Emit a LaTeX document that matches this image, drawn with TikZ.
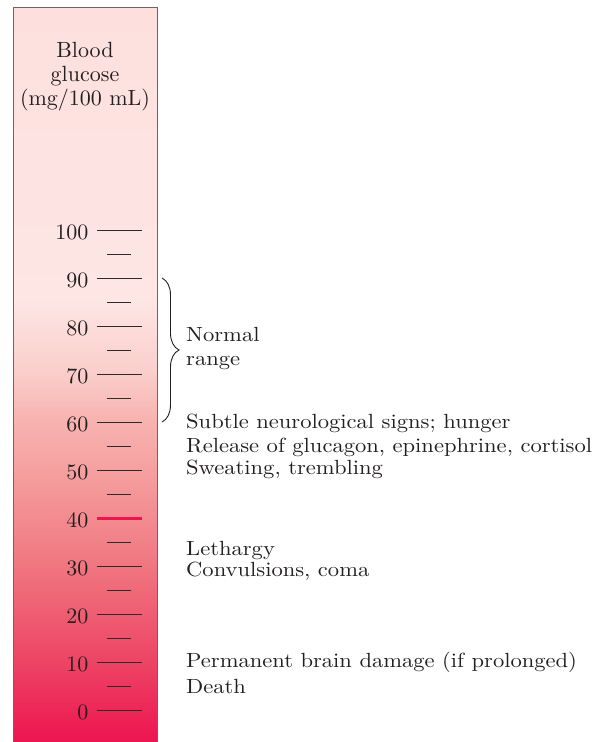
\documentclass[tikz,border=0pt]{standalone}
\usepackage{fontspec}
\setmainfont{lmroman10-regular.otf}
\newfontfamily\lblfont{lmroman10-regular.otf}[FakeStretch=1.10]
\usetikzlibrary{decorations.pathreplacing}

\definecolor{glcA}{RGB}{237,20,80}
\definecolor{glcB}{RGB}{237,68,100}
\definecolor{glcC}{RGB}{240,118,128}
\definecolor{glcD}{RGB}{245,160,160}
\definecolor{glcE}{RGB}{247,178,175}
\definecolor{glcF}{RGB}{250,205,202}
\definecolor{glcG}{RGB}{253,230,228}
\definecolor{glcH}{RGB}{253,224,222}
\definecolor{tickgray}{RGB}{45,42,42}
\definecolor{framegray}{RGB}{110,100,100}
\definecolor{inkblack}{RGB}{35,31,32}

% bar gradient, path fills 25bp--75bp
\pgfdeclareverticalshading{glucosebar}{100bp}{%
  color(0bp)=(glcA); color(25bp)=(glcA); color(30.44bp)=(glcB);
  color(36.98bp)=(glcC); color(43.51bp)=(glcD); color(46.78bp)=(glcE);
  color(50.04bp)=(glcF); color(55.08bp)=(glcG); color(75bp)=(glcH);
  color(100bp)=(glcH)}

\tikzset{
  txt/.style={font=\fontsize{22}{24}\selectfont, inner sep=0pt, text=inkblack},
  lbl/.style={font=\lblfont\fontsize{20.5}{24}\selectfont, inner sep=0pt, text=inkblack, anchor=base west},
  longtick/.style={tickgray, line width=0.9pt},
  shorttick/.style={tickgray, line width=0.9pt}
}

\begin{document}
\begin{tikzpicture}[x=1pt, y=4.8pt]
  \useasboundingbox (0,-6.667) rectangle (612,147.92);

  % 柱体
  \shade[shading=glucosebar] (13.5,-6.667) rectangle (157.5,146.4);
  \draw[framegray, line width=1pt] (13.5,-6.667) -- (13.5,146.4) -- (157.5,146.4) -- (157.5,-6.667);

  % 标题
  \node[txt, anchor=base] (tblood) at (85,136.04) {Blood};
  \node[txt, anchor=base] (tgluc) at (85,131.04) {glucose};
  \node[txt, anchor=base] (tunit) at (85,126.04) {(mg/100 mL)};

  % 刻度
  \foreach \v in {0,10,...,100} {
    \draw[longtick] (97,\v) -- (142,\v);
    \node[txt, anchor=base east] (num\v) at (88.5,\v-2.08) {\v};
  }
  \foreach \v in {5,15,...,95}
    \draw[shorttick] (107,\v) -- (131,\v);
  \draw[glcA, line width=3pt] (97,40) -- (142,40);

  % 正常范围
  \draw[inkblack, line width=0.9pt, decorate, decoration={brace, amplitude=17pt}] (162,90) -- (162,60);
  \node[lbl] (normal) at (186,76.67) {Normal};
  \node[lbl] (range) at (186,71.875) {range};

  % 症状
  \node[lbl] (subtle) at (186,58.75) {Subtle neurological signs; hunger};
  \node[lbl] (release) at (186,53.75) {Release of glucagon, epinephrine, cortisol};
  \node[lbl] (sweat) at (186,48.96) {Sweating, trembling};
  \node[lbl] (leth) at (186,32.29) {Lethargy};
  \node[lbl] (conv) at (186,27.71) {Convulsions, coma};
  \node[lbl] (perm) at (186,8.75) {Permanent brain damage (if prolonged)};
  \node[lbl] (death) at (186,3.54) {Death};
\end{tikzpicture}
\end{document}
